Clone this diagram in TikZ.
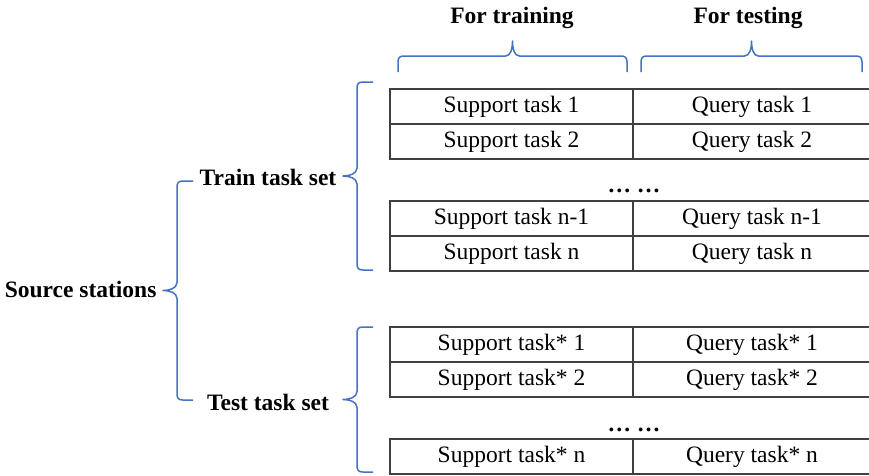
\documentclass[tikz,border=0pt]{standalone}
\usepackage{fontspec}
\setmainfont{Liberation Serif}
\usepackage{tikz}
\usetikzlibrary{positioning}
\definecolor{braceblue}{RGB}{68,114,196}
\definecolor{gridgray}{RGB}{64,64,64}
% brace opening right: {end x}{line x}{tip x}{top y}{bottom y}
\newcommand{\vbrace}[5]{%
  \draw[brc] (#1,#4) -- ({#2+6},#4) .. controls ({#2+1},#4) and (#2,{#4+2}) .. (#2,{#4+7})
    -- (#2,{(#4+#5)/2-8}) .. controls (#2,{(#4+#5)/2-2}) and ({#3+6},{(#4+#5)/2}) .. (#3,{(#4+#5)/2})
    .. controls ({#3+6},{(#4+#5)/2}) and (#2,{(#4+#5)/2+2}) .. (#2,{(#4+#5)/2+8})
    -- (#2,{#5-7}) .. controls (#2,{#5-2}) and ({#2+1},#5) .. ({#2+6},#5) -- (#1,#5);}
% brace opening down: {end y}{line y}{tip y}{left x}{right x}
\newcommand{\hbrace}[5]{%
  \draw[brc] (#4,#1) -- (#4,{#2+6}) .. controls (#4,{#2+1}) and ({#4+2},#2) .. ({#4+7},#2)
    -- ({(#4+#5)/2-7},#2) .. controls ({(#4+#5)/2-2},#2) and ({(#4+#5)/2},{#3+8}) .. ({(#4+#5)/2},#3)
    .. controls ({(#4+#5)/2},{#3+8}) and ({(#4+#5)/2+2},#2) .. ({(#4+#5)/2+7},#2)
    -- ({#5-7},#2) .. controls ({#5-2},#2) and (#5,{#2+1}) .. (#5,{#2+6}) -- (#5,#1);}

\begin{document}
\begin{tikzpicture}[x=1pt,y=-1pt,font=\fontsize{23.5}{27}\selectfont,
    cell/.style={draw=gridgray, line width=1.4pt, minimum height=35pt, inner sep=0pt, outer sep=0pt},
    scell/.style={cell, minimum width=243pt},
    qcell/.style={cell, minimum width=238pt},
    lbl/.style={font=\fontsize{23.5}{27}\selectfont\bfseries},
    brc/.style={draw=braceblue, line width=1.5pt, line join=round}]
        \useasboundingbox (0,0) rectangle (869,475);

        % train task set
        \node [scell, anchor=north west] (s1) at (390,89) {Support task 1};
        \node [qcell, right=0pt of s1] (q1) {Query task 1};
        \node [scell, below=0pt of s1] (s2) {Support task 2};
        \node [qcell, right=0pt of s2] (q2) {Query task 2};
        \node [scell, below=42pt of s2] (s3) {Support task n-1};
        \node [qcell, right=0pt of s3] (q3) {Query task n-1};
        \node [scell, below=0pt of s3] (s4) {Support task n};
        \node [qcell, right=0pt of s4] (q4) {Query task n};
        \node [anchor=base] (dots1) at (634,192) {\textbf{\ldots\ \ldots}};

        % test task set
        \node [scell, below=56pt of s4] (t1) {Support task* 1};
        \node [qcell, right=0pt of t1] (r1) {Query task* 1};
        \node [scell, below=0pt of t1] (t2) {Support task* 2};
        \node [qcell, right=0pt of t2] (r2) {Query task* 2};
        \node [scell, below=42pt of t2] (t3) {Support task* n};
        \node [qcell, right=0pt of t3] (r3) {Query task* n};
        \node [anchor=base] (dots2) at (634,431) {\textbf{\ldots\ \ldots}};

        % labels
        \node [lbl] (train) at (268,177) {Train task set};
        \node [lbl] (test) at (268,402) {Test task set};
        \node [lbl, anchor=east] (source) at (160,289) {Source stations};
        \node [lbl] (fortrain) at (512,18) {For training};
        \node [lbl] (fortest) at (748,18) {For testing};

        % braces
        \hbrace{72}{56}{41}{398}{627}
        \hbrace{72}{56}{41}{641}{862}
        \vbrace{373}{357}{343}{82}{270}
        \vbrace{373}{357}{343}{327}{472}
        \vbrace{193}{177}{163}{181}{400}
      \end{tikzpicture}
\end{document}
